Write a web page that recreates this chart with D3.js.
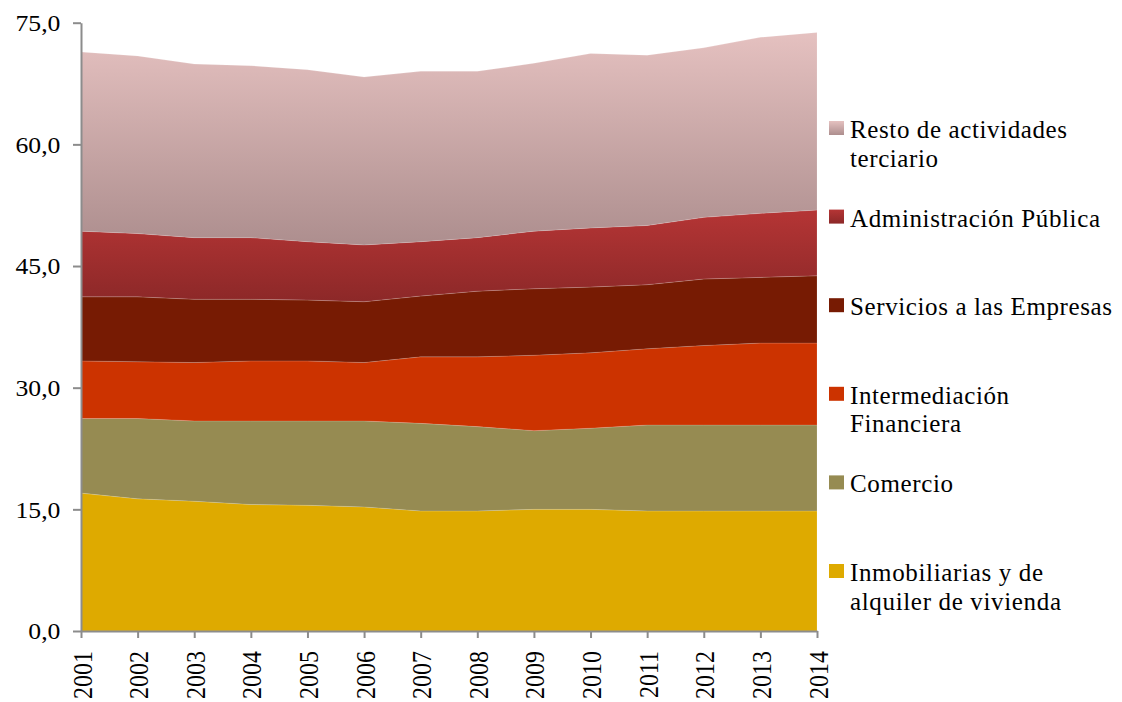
<!DOCTYPE html>
<html>
<head>
<meta charset="utf-8">
<script src="https://cdn.jsdelivr.net/npm/d3@7"></script>
<style>
  body { margin: 0; background: #fff; }
  svg { display: block; }
  svg text { font-family: "Times New Roman", "Liberation Serif", Times, serif; fill: #000; }
</style>
</head>
<body>
<div id="viz"></div>
<script>
// years on the x axis
var years = [2001, 2002, 2003, 2004, 2005, 2006, 2007, 2008, 2009, 2010, 2011, 2012, 2013, 2014];

// series (stacked from the bottom up)
var inmobiliarias  = [17.0, 16.3, 16.0, 15.6, 15.5, 15.3, 14.8, 14.8, 15.0, 15.0, 14.8, 14.8, 14.8, 14.8];
var comercio       = [9.2, 9.9, 9.9, 10.3, 10.4, 10.6, 10.8, 10.4, 9.7, 10.0, 10.6, 10.6, 10.6, 10.6];
var intermediacion = [7.1, 7.0, 7.2, 7.4, 7.4, 7.2, 8.2, 8.6, 9.3, 9.3, 9.4, 9.8, 10.1, 10.1];
var servicios      = [7.9, 8.0, 7.8, 7.6, 7.5, 7.5, 7.5, 8.1, 8.2, 8.1, 7.9, 8.2, 8.1, 8.3];
var administracion = [8.1, 7.8, 7.6, 7.6, 7.2, 7.0, 6.7, 6.6, 7.1, 7.3, 7.3, 7.6, 7.9, 8.1];
var resto          = [22.1, 21.9, 21.4, 21.2, 21.2, 20.7, 21.0, 20.5, 20.7, 21.5, 21.0, 20.9, 21.7, 21.9];

var yTicks = [0, 15, 30, 45, 60, 75];

var keys = ['inmo', 'come', 'inte', 'serv', 'admi', 'rest'];
var labels = {
  inmo: ['Inmobiliarias y de', 'alquiler de vivienda'],
  come: ['Comercio'],
  inte: ['Intermediación', 'Financiera'],
  serv: ['Servicios a las Empresas'],
  admi: ['Administración Pública'],
  rest: ['Resto de actividades', 'terciario']
};

// table for d3.stack
var table = years.map(function(y, i){
  return { year: y, inmo: inmobiliarias[i], come: comercio[i], inte: intermediacion[i],
           serv: servicios[i], admi: administracion[i], rest: resto[i] };
});

var width = 1122, height = 702;
var x0 = 81, x1 = 817, yBottom = 631, yTop = 22.7;
var serif = '"Times New Roman", "Liberation Serif", Times, serif';

var xScale = d3.scaleLinear().domain([2001, 2014]).range([x0, x1]);
var yScale = d3.scaleLinear().domain([0, 75]).range([yBottom, yTop]);

var svg = d3.select('#viz').append('svg')
  .attr('width', width)
  .attr('height', height);

// gradients for the two upper bands
var defs = svg.append('defs');
function grad(id, c1, c2){
  var g = defs.append('linearGradient').attr('id', id)
    .attr('x1', 0).attr('y1', 0).attr('x2', 0).attr('y2', 1);
  g.append('stop').attr('offset', '0%').attr('stop-color', c1);
  g.append('stop').attr('offset', '100%').attr('stop-color', c2);
}
grad('gRest', '#e5c1c0', '#ad8e8e');
grad('gAdmi', '#b53535', '#8c2828');

var fills = {
  inmo: '#deaa00',
  come: '#968b52',
  inte: '#cc3300',
  serv: '#771b03',
  admi: 'url(#gAdmi)',
  rest: 'url(#gRest)'
};

var series = d3.stack().keys(keys)(table);

var area = d3.area()
  .x(function(d){ return xScale(d.data.year); })
  .y0(function(d){ return yScale(d[0]); })
  .y1(function(d){ return yScale(d[1]); });

svg.append('g').selectAll('path')
  .data(series)
  .enter().append('path')
  .attr('d', area)
  .attr('fill', function(d){ return fills[d.key]; })
  .attr('stroke', 'rgba(255,255,255,0.18)')
  .attr('stroke-width', 0.8);

// y axis
var fmt = d3.formatLocale({ decimal: ',', thousands: '.', grouping: [3], currency: ['', ''] }).format('.1f');
var yAxis = svg.append('g')
  .attr('transform', 'translate(' + x0 + ',0)')
  .call(d3.axisLeft(yScale).tickValues(yTicks).tickFormat(fmt).tickSize(8).tickSizeOuter(0).tickPadding(15));
yAxis.attr('font-family', serif).attr('font-size', 24);
yAxis.selectAll('text')
  .attr('transform', 'translate(-57,0) scale(1.07,1) translate(57,0)');

// x axis
var xAxis = svg.append('g')
  .attr('transform', 'translate(0,' + yBottom + ')')
  .call(d3.axisBottom(xScale).tickValues(years).tickFormat(d3.format('d')).tickSize(7).tickSizeOuter(0));
xAxis.attr('font-family', serif).attr('font-size', 24);
xAxis.selectAll('text')
  .attr('y', null).attr('dy', null)
  .attr('text-anchor', 'end')
  .attr('transform', 'translate(10,20) scale(1.1,1) rotate(-90)');

svg.selectAll('.domain').attr('stroke', '#8c8c8c').attr('stroke-width', 2);
svg.selectAll('.tick line').attr('stroke', '#8c8c8c').attr('stroke-width', 2);

// legend (top entry first)
var legendKeys = keys.slice().reverse();
var widths = {
  rest: [217, 88], admi: [250], serv: [262],
  inte: [159, 111], come: [103], inmo: [193, 211]
};
var legend = svg.append('g').selectAll('g')
  .data(legendKeys)
  .enter().append('g')
  .attr('transform', function(d, i){ return 'translate(829,' + (138 + i * 88.6) + ')'; });

legend.append('rect')
  .attr('x', 0).attr('y', -17)
  .attr('width', 15).attr('height', 14)
  .attr('fill', function(d){ return fills[d]; });

legend.each(function(k){
  var g = d3.select(this);
  labels[k].forEach(function(line, j){
    g.append('text')
      .attr('x', 21)
      .attr('y', j * 28.5)
      .attr('font-size', 25)
      .attr('textLength', widths[k][j])
      .attr('lengthAdjust', 'spacing')
      .text(line);
  });
});
</script>
</body>
</html>
